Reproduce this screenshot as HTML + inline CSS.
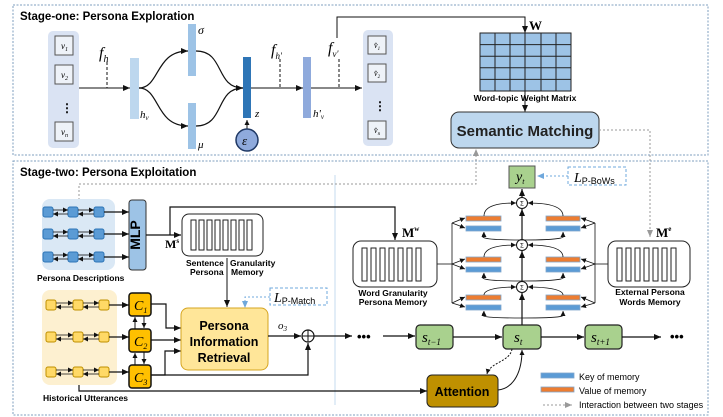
<!DOCTYPE html>
<html><head><meta charset="utf-8"><style>
html,body{margin:0;padding:0;background:#fff}
svg{display:block}
text{font-family:"Liberation Sans",sans-serif}
.s{font-family:"Liberation Serif",serif;font-style:italic}
.b{font-weight:bold}
</style></head><body>
<svg width="723" height="417" viewBox="0 0 723 417" xmlns="http://www.w3.org/2000/svg">
<defs>
<marker id="a" markerWidth="8" markerHeight="8" refX="7" refY="4" orient="auto" markerUnits="userSpaceOnUse"><path d="M0,1 L7,4 L0,7 z" fill="#111"/></marker>
<marker id="g" markerWidth="8" markerHeight="8" refX="7" refY="4" orient="auto" markerUnits="userSpaceOnUse"><path d="M0,1 L7,4 L0,7 z" fill="#999"/></marker>
<marker id="lb" markerWidth="8" markerHeight="8" refX="7" refY="4" orient="auto" markerUnits="userSpaceOnUse"><path d="M0,1 L7,4 L0,7 z" fill="#6fa8dc"/></marker>
<marker id="sm" markerWidth="6" markerHeight="6" refX="5" refY="3" orient="auto" markerUnits="userSpaceOnUse"><path d="M0,0.5 L5,3 L0,5.5 z" fill="#111"/></marker>
</defs>
<!-- stage boxes -->
<rect x="13" y="5" width="695" height="150" fill="none" stroke="#7f9fbf" stroke-dasharray="2,1.5" stroke-width="1"/>
<rect x="13" y="161" width="695" height="254" fill="none" stroke="#7f9fbf" stroke-dasharray="2,1.5" stroke-width="1"/>
<text x="20" y="20" font-size="11.5" class="b">Stage-one: Persona Exploration</text>
<text x="20" y="176" font-size="11.5" class="b">Stage-two: Persona Exploitation</text>
<line x1="335" y1="175" x2="335" y2="405" stroke="#c6dbef" stroke-width="1"/>

<!-- v panel -->
<rect x="48" y="31" width="31" height="117" rx="5" fill="#dae3f3"/>
<g fill="#eef2f8" stroke="#555" stroke-width="1">
<rect x="55" y="36" width="18" height="19"/><rect x="55" y="65" width="18" height="19"/><rect x="55" y="122" width="18" height="19"/>
</g>
<text x="61" y="49" font-size="9" class="s">v<tspan font-size="6" dy="2">1</tspan></text>
<text x="61" y="78" font-size="9" class="s">v<tspan font-size="6" dy="2">2</tspan></text>
<text x="61" y="135" font-size="9" class="s">v<tspan font-size="6" dy="2">n</tspan></text>
<text x="61" y="112" font-size="12" class="b">⋮</text>
<line x1="79" y1="88" x2="130" y2="88" stroke="#111" marker-end="url(#a)"/>
<text x="99" y="58" font-size="16" class="s">f<tspan font-size="10" dy="4">h</tspan></text>
<line x1="107" y1="62" x2="107" y2="88" stroke="#111" stroke-dasharray="3,2"/>
<rect x="130" y="58" width="9" height="61" fill="#bdd7ee"/>
<text x="140" y="118" font-size="11" class="s">h<tspan font-size="7" dy="2">v</tspan></text>
<rect x="188" y="24" width="8" height="52" fill="#9dc3e6"/>
<text x="198" y="34" font-size="12" class="s">σ</text>
<rect x="188" y="103" width="8" height="46" fill="#9dc3e6"/>
<text x="198" y="148" font-size="11" class="s">μ</text>
<g fill="none" stroke="#111" stroke-width="1.2">
<path d="M139,88 C160,88 155,51 188,51" marker-end="url(#a)"/>
<path d="M139,88 C160,88 155,126 188,126" marker-end="url(#a)"/>
<path d="M196,51 C225,51 215,88 243,88" marker-end="url(#a)"/>
<path d="M196,126 C225,126 215,88 243,88"/>
</g>
<rect x="243" y="57" width="8" height="61" fill="#2e75b6"/>
<text x="255" y="117" font-size="11" class="s">z</text>
<line x1="247" y1="129" x2="247" y2="120" stroke="#111" marker-end="url(#sm)"/>
<circle cx="247" cy="140" r="11" fill="#8faadc" stroke="#1f3864" stroke-width="1.5"/>
<text x="242" y="145" font-size="13" class="s">ε</text>
<line x1="251" y1="88" x2="303" y2="88" stroke="#111" marker-end="url(#a)"/>
<text x="271" y="55" font-size="16" class="s">f<tspan font-size="9" dy="4">h'</tspan></text>
<line x1="280" y1="59" x2="280" y2="88" stroke="#111" stroke-dasharray="3,2"/>
<rect x="303" y="57" width="8" height="61" fill="#8faadc"/>
<text x="313" y="117" font-size="11" class="s">h'<tspan font-size="7" dy="2">v</tspan></text>
<line x1="311" y1="88" x2="362" y2="88" stroke="#111" marker-end="url(#a)"/>
<text x="328" y="53" font-size="16" class="s">f<tspan font-size="9" dy="4">v'</tspan></text>
<line x1="339" y1="59" x2="339" y2="88" stroke="#111" stroke-dasharray="3,2"/>
<polyline points="337,38 337,17 525,17 525,33" fill="none" stroke="#111" marker-end="url(#a)"/>
<!-- vhat panel -->
<rect x="363" y="30" width="30" height="116" rx="5" fill="#dae3f3"/>
<g fill="#eef2f8" stroke="#555"><rect x="368" y="36" width="18" height="18"/><rect x="368" y="64" width="18" height="18"/><rect x="368" y="121" width="18" height="18"/></g>
<text x="374" y="48" font-size="8" class="s">v̂<tspan font-size="5" dy="2">1</tspan></text>
<text x="374" y="76" font-size="8" class="s">v̂<tspan font-size="5" dy="2">2</tspan></text>
<text x="374" y="133" font-size="8" class="s">v̂<tspan font-size="5" dy="2">n</tspan></text>
<text x="374" y="110" font-size="12" class="b">⋮</text>
<!-- matrix -->
<text x="529" y="30" font-size="13" font-family="Liberation Serif" class="b" style="font-family:'Liberation Serif',serif">W</text>
<rect x="480" y="33" width="91" height="58" fill="#9dc3e6" stroke="#222"/>
<g stroke="#222" stroke-width="1">
<line x1="495" y1="33" x2="495" y2="91"/><line x1="510" y1="33" x2="510" y2="91"/><line x1="525" y1="33" x2="525" y2="91"/><line x1="541" y1="33" x2="541" y2="91"/><line x1="556" y1="33" x2="556" y2="91"/>
<line x1="480" y1="44.6" x2="571" y2="44.6"/><line x1="480" y1="56.2" x2="571" y2="56.2"/><line x1="480" y1="67.8" x2="571" y2="67.8"/><line x1="480" y1="79.4" x2="571" y2="79.4"/>
</g>
<text x="525" y="101" font-size="8.5" class="b" text-anchor="middle">Word-topic  Weight  Matrix</text>
<line x1="525" y1="91" x2="525" y2="112" stroke="#111" marker-end="url(#a)"/>
<rect x="451" y="112" width="148" height="36" rx="8" fill="#bdd7ee" stroke="#333"/>
<text x="525" y="136" font-size="15" class="b" text-anchor="middle" fill="#222">Semantic Matching</text>
<polyline points="599,130 650,130 650,237" fill="none" stroke="#999" stroke-dasharray="2,2" marker-end="url(#g)"/>
<polyline points="79,200 79,184 476,184 476,149" fill="none" stroke="#999" stroke-dasharray="2,2" marker-end="url(#g)"/>

<!-- persona descriptions -->
<rect x="42" y="199" width="73" height="71" rx="8" fill="#dae8f5"/>
<g fill="#5b9bd5" stroke="#2e75b6">
<rect x="43" y="207" width="10" height="10" rx="2"/><rect x="68" y="207" width="10" height="10" rx="2"/><rect x="94" y="207" width="10" height="10" rx="2"/>
<rect x="43" y="229" width="10" height="10" rx="2"/><rect x="68" y="229" width="10" height="10" rx="2"/><rect x="94" y="229" width="10" height="10" rx="2"/>
<rect x="43" y="252" width="10" height="10" rx="2"/><rect x="68" y="252" width="10" height="10" rx="2"/><rect x="94" y="252" width="10" height="10" rx="2"/>
</g>
<g stroke="#111" fill="none" stroke-width="0.8">
<line x1="53" y1="210" x2="68" y2="210" marker-end="url(#sm)"/><line x1="68" y1="214" x2="53" y2="214" marker-end="url(#sm)"/>
<line x1="78" y1="210" x2="94" y2="210" marker-end="url(#sm)"/><line x1="94" y1="214" x2="78" y2="214" marker-end="url(#sm)"/>
<line x1="53" y1="232" x2="68" y2="232" marker-end="url(#sm)"/><line x1="68" y1="236" x2="53" y2="236" marker-end="url(#sm)"/>
<line x1="78" y1="232" x2="94" y2="232" marker-end="url(#sm)"/><line x1="94" y1="236" x2="78" y2="236" marker-end="url(#sm)"/>
<line x1="53" y1="255" x2="68" y2="255" marker-end="url(#sm)"/><line x1="68" y1="259" x2="53" y2="259" marker-end="url(#sm)"/>
<line x1="78" y1="255" x2="94" y2="255" marker-end="url(#sm)"/><line x1="94" y1="259" x2="78" y2="259" marker-end="url(#sm)"/>
</g>
<g stroke="#111" stroke-width="1.2">
<line x1="104" y1="212" x2="129" y2="212" marker-end="url(#a)"/><line x1="104" y1="234" x2="129" y2="234" marker-end="url(#a)"/><line x1="104" y1="257" x2="129" y2="257" marker-end="url(#a)"/>
</g>
<text x="37" y="281" font-size="8.5" class="b">Persona  Descriptions</text>
<rect x="129" y="200" width="17" height="70" rx="3" fill="#9dc3e6" stroke="#333"/>
<text x="143" y="235" font-size="14" class="b" text-anchor="middle" transform="rotate(-90 143 235)" dy="-3">MLP</text>
<line x1="146" y1="235" x2="181" y2="235" stroke="#111" stroke-width="1.2" marker-end="url(#a)"/>
<polyline points="170,235 170,207 395,207 395,240" fill="none" stroke="#111" stroke-width="1.2" marker-end="url(#a)"/>
<text x="165" y="248" font-size="12" class="b" style="font-family:'Liberation Serif',serif">M<tspan font-size="7" dy="-5">s</tspan></text>
<rect x="182" y="214" width="81" height="42" rx="7" fill="#fff" stroke="#222"/>
<g fill="#fff" stroke="#222"><rect x="191" y="220" width="5" height="30"/><rect x="199" y="220" width="5" height="30"/><rect x="207" y="220" width="5" height="30"/><rect x="215" y="220" width="5" height="30"/><rect x="223" y="220" width="5" height="30"/><rect x="231" y="220" width="5" height="30"/><rect x="239" y="220" width="5" height="30"/><rect x="247" y="220" width="5" height="30"/></g>
<text x="186" y="266" font-size="8.5" class="b">Sentence</text><text x="230" y="266" font-size="8.5" class="b">Granularity</text>
<text x="190" y="275" font-size="8.5" class="b">Persona</text><text x="231" y="275" font-size="8.5" class="b">Memory</text>
<line x1="227" y1="258" x2="227" y2="307" stroke="#111" marker-end="url(#a)"/>
<rect x="270" y="288" width="57" height="17" fill="none" stroke="#6fa8dc" stroke-dasharray="3,2"/>
<text x="274" y="302" font-size="14" class="s" style="font-style:italic">L<tspan font-size="9" font-style="normal" font-family="Liberation Sans" dy="2">P-Match</tspan></text>
<polyline points="270,297 245,297 245,308" fill="none" stroke="#6fa8dc" stroke-dasharray="2,2" marker-end="url(#lb)"/>

<!-- historical -->
<rect x="42" y="290" width="75" height="95" rx="8" fill="#fdf0d0"/>
<g fill="#ffd966" stroke="#bf9000">
<rect x="46" y="300" width="10" height="10" rx="2"/><rect x="73" y="300" width="10" height="10" rx="2"/><rect x="99" y="300" width="10" height="10" rx="2"/>
<rect x="46" y="332" width="10" height="10" rx="2"/><rect x="73" y="332" width="10" height="10" rx="2"/><rect x="99" y="332" width="10" height="10" rx="2"/>
<rect x="46" y="367" width="10" height="10" rx="2"/><rect x="73" y="367" width="10" height="10" rx="2"/><rect x="99" y="367" width="10" height="10" rx="2"/>
</g>
<g stroke="#111" fill="none" stroke-width="0.8">
<line x1="56" y1="303" x2="73" y2="303" marker-end="url(#sm)"/><line x1="73" y1="307" x2="56" y2="307" marker-end="url(#sm)"/>
<line x1="83" y1="303" x2="99" y2="303" marker-end="url(#sm)"/><line x1="99" y1="307" x2="83" y2="307" marker-end="url(#sm)"/>
<line x1="56" y1="335" x2="73" y2="335" marker-end="url(#sm)"/><line x1="73" y1="339" x2="56" y2="339" marker-end="url(#sm)"/>
<line x1="83" y1="335" x2="99" y2="335" marker-end="url(#sm)"/><line x1="99" y1="339" x2="83" y2="339" marker-end="url(#sm)"/>
<line x1="56" y1="370" x2="73" y2="370" marker-end="url(#sm)"/><line x1="73" y1="374" x2="56" y2="374" marker-end="url(#sm)"/>
<line x1="83" y1="370" x2="99" y2="370" marker-end="url(#sm)"/><line x1="99" y1="374" x2="83" y2="374" marker-end="url(#sm)"/>
</g>
<g stroke="#111" stroke-width="1.2">
<line x1="109" y1="305" x2="129" y2="305" marker-end="url(#a)"/><line x1="109" y1="337" x2="129" y2="337" marker-end="url(#a)"/><line x1="109" y1="372" x2="129" y2="372" marker-end="url(#a)"/>
</g>
<text x="43" y="401" font-size="8.5" class="b">Historical Utterances</text>
<g fill="#ffc000" stroke="#111" stroke-width="1.5">
<rect x="129" y="293" width="22" height="23" rx="3"/><rect x="129" y="329" width="22" height="23" rx="3"/><rect x="129" y="365" width="22" height="23" rx="3"/>
</g>
<text x="134" y="310" font-size="14" class="s">C<tspan font-size="8" dy="3">1</tspan></text>
<text x="134" y="346" font-size="14" class="s">C<tspan font-size="8" dy="3">2</tspan></text>
<text x="134" y="382" font-size="14" class="s">C<tspan font-size="8" dy="3">3</tspan></text>
<g stroke="#111" stroke-width="1">
<line x1="135" y1="329" x2="135" y2="317" marker-end="url(#sm)"/><line x1="144" y1="316" x2="144" y2="328" marker-end="url(#sm)"/>
<line x1="135" y1="365" x2="135" y2="353" marker-end="url(#sm)"/><line x1="144" y1="352" x2="144" y2="364" marker-end="url(#sm)"/>
</g>
<g fill="none" stroke="#111" stroke-width="1.2">
<polyline points="151,304 166,304 166,328 181,328" marker-end="url(#a)"/>
<line x1="151" y1="340" x2="181" y2="340" marker-end="url(#a)"/>
<polyline points="151,375 165,375 165,351 181,351" marker-end="url(#a)"/>
<polyline points="151,375 308,375 308,343" marker-end="url(#a)"/>
<polyline points="79,385 79,391 427,391" marker-end="url(#a)"/>
</g>
<rect x="181" y="308" width="87" height="62" rx="7" fill="#ffe699" stroke="#d6a520"/>
<text x="224" y="330" font-size="12.5" class="b" text-anchor="middle">Persona</text>
<text x="224" y="346" font-size="12.5" class="b" text-anchor="middle">Information</text>
<text x="224" y="362" font-size="12.5" class="b" text-anchor="middle">Retrieval</text>
<text x="278" y="329" font-size="11" class="s">o<tspan font-size="7" dy="2">3</tspan></text>
<line x1="268" y1="336" x2="301" y2="336" stroke="#111" stroke-width="1.2" marker-end="url(#a)"/>
<circle cx="308" cy="336" r="6" fill="#fff" stroke="#111" stroke-width="1.2"/>
<line x1="302" y1="336" x2="314" y2="336" stroke="#111"/><line x1="308" y1="330" x2="308" y2="342" stroke="#111"/>
<line x1="314" y1="336" x2="352" y2="336" stroke="#111" stroke-width="1.2" marker-end="url(#a)"/>
<text x="357" y="341" font-size="13" class="b">•••</text>
<line x1="383" y1="336" x2="415" y2="336" stroke="#111" stroke-width="1.2" marker-end="url(#a)"/>
<!-- s nodes -->
<g fill="#a9d18e" stroke="#222" stroke-width="1.2">
<rect x="416" y="325" width="37" height="24" rx="4"/><rect x="503" y="325" width="38" height="24" rx="4"/><rect x="585" y="325" width="37" height="24" rx="4"/>
</g>
<text x="422" y="342" font-size="15" class="s">s<tspan font-size="9" dy="3">t−1</tspan></text>
<text x="514" y="342" font-size="15" class="s">s<tspan font-size="9" dy="3">t</tspan></text>
<text x="591" y="342" font-size="15" class="s">s<tspan font-size="9" dy="3">t+1</tspan></text>
<g stroke="#111" stroke-width="1.2"><line x1="453" y1="337" x2="502" y2="337" marker-end="url(#a)"/><line x1="541" y1="337" x2="584" y2="337" marker-end="url(#a)"/><line x1="622" y1="337" x2="661" y2="337" marker-end="url(#a)"/></g>
<text x="670" y="341" font-size="13" class="b">•••</text>
<rect x="427" y="375" width="71" height="32" rx="5" fill="#bf9000" stroke="#222"/>
<text x="462" y="396" font-size="12.5" class="b" text-anchor="middle">Attention</text>
<path d="M512,349 C510,362 490,362 487,374" fill="none" stroke="#111" stroke-dasharray="2,1.5" marker-end="url(#sm)"/>
<path d="M498,390 C515,388 522,370 522,350" fill="none" stroke="#111" marker-end="url(#sm)"/>
<!-- y_t -->
<rect x="509" y="166" width="26" height="22" fill="#a9d18e" stroke="#555"/>
<text x="516" y="181" font-size="14" class="s">y<tspan font-size="8" dy="3">t</tspan></text>
<rect x="568" y="167" width="58" height="18" fill="none" stroke="#6fa8dc" stroke-dasharray="3,2"/>
<text x="574" y="182" font-size="14" class="s">L<tspan font-size="9" font-style="normal" font-family="Liberation Sans" dy="2">P-BoWs</tspan></text>
<line x1="568" y1="176" x2="537" y2="176" stroke="#6fa8dc" stroke-dasharray="2,2" marker-end="url(#lb)"/>
<!-- vertical chain -->
<g stroke="#111" stroke-width="1.2">
<line x1="522" y1="325" x2="522" y2="293" marker-end="url(#a)"/>
<line x1="522" y1="282" x2="522" y2="251" marker-end="url(#a)"/>
<line x1="522" y1="239" x2="522" y2="209" marker-end="url(#a)"/>
<line x1="522" y1="198" x2="522" y2="189" marker-end="url(#a)"/>
</g>
<g fill="#fff" stroke="#111"><circle cx="522" cy="203" r="5.5"/><circle cx="522" cy="245" r="5.5"/><circle cx="522" cy="287" r="5.5"/></g>
<g font-size="6" text-anchor="middle"><text x="522" y="205.5">Σ</text><text x="522" y="247.5">Σ</text><text x="522" y="289.5">Σ</text></g>
<!-- memory bars -->
<g stroke="#7fa6cc" stroke-width="0.8">
<rect x="466" y="216" width="35" height="5" fill="#ed7d31"/><rect x="466" y="226" width="35" height="5" fill="#5b9bd5"/>
<rect x="466" y="257" width="35" height="5" fill="#ed7d31"/><rect x="466" y="267" width="35" height="5" fill="#5b9bd5"/>
<rect x="466" y="295" width="35" height="5" fill="#ed7d31"/><rect x="466" y="305" width="35" height="5" fill="#5b9bd5"/>
<rect x="546" y="216" width="34" height="5" fill="#ed7d31"/><rect x="546" y="226" width="34" height="5" fill="#5b9bd5"/>
<rect x="546" y="257" width="34" height="5" fill="#ed7d31"/><rect x="546" y="267" width="34" height="5" fill="#5b9bd5"/>
<rect x="546" y="295" width="34" height="5" fill="#ed7d31"/><rect x="546" y="305" width="34" height="5" fill="#5b9bd5"/>
</g>
<g fill="none" stroke="#111" stroke-width="0.8">
<path d="M484,216 C484,205 500,203 516,203" marker-end="url(#sm)"/><path d="M563,216 C563,205 545,203 528,203" marker-end="url(#sm)"/>
<path d="M484,257 C484,247 500,245 516,245" marker-end="url(#sm)"/><path d="M563,257 C563,247 545,245 528,245" marker-end="url(#sm)"/>
<path d="M484,295 C484,289 500,287 516,287" marker-end="url(#sm)"/><path d="M563,295 C563,289 545,287 528,287" marker-end="url(#sm)"/>
<path d="M522,240 C470,240 484,236 484,232" marker-end="url(#sm)"/><path d="M522,240 C575,240 563,236 563,232" marker-end="url(#sm)"/>
<path d="M522,281 C470,281 484,277 484,273" marker-end="url(#sm)"/><path d="M522,281 C575,281 563,277 563,273" marker-end="url(#sm)"/>
<path d="M522,318 C470,318 484,315 484,311" marker-end="url(#sm)"/><path d="M522,318 C575,318 563,315 563,311" marker-end="url(#sm)"/>
<line x1="452" y1="223" x2="452" y2="303"/>
<line x1="452" y1="223" x2="465" y2="218" marker-end="url(#sm)"/><line x1="452" y1="223" x2="465" y2="228" marker-end="url(#sm)"/>
<line x1="452" y1="264" x2="465" y2="259" marker-end="url(#sm)"/><line x1="452" y1="264" x2="465" y2="269" marker-end="url(#sm)"/>
<line x1="452" y1="303" x2="465" y2="297" marker-end="url(#sm)"/><line x1="452" y1="303" x2="465" y2="307" marker-end="url(#sm)"/>
<line x1="437" y1="264" x2="452" y2="264"/>
<line x1="595" y1="223" x2="595" y2="303"/>
<line x1="595" y1="223" x2="581" y2="218" marker-end="url(#sm)"/><line x1="595" y1="223" x2="581" y2="228" marker-end="url(#sm)"/>
<line x1="595" y1="264" x2="581" y2="259" marker-end="url(#sm)"/><line x1="595" y1="264" x2="581" y2="269" marker-end="url(#sm)"/>
<line x1="595" y1="303" x2="581" y2="297" marker-end="url(#sm)"/><line x1="595" y1="303" x2="581" y2="307" marker-end="url(#sm)"/>
<line x1="595" y1="264" x2="608" y2="264"/>
</g>
<!-- Mw / Me -->
<text x="402" y="237" font-size="13" class="b" style="font-family:'Liberation Serif',serif">M<tspan font-size="7" dy="-6">w</tspan></text>
<rect x="353" y="241" width="84" height="46" rx="8" fill="#fff" stroke="#222"/>
<g fill="#fff" stroke="#222"><rect x="362" y="248" width="5" height="33"/><rect x="371" y="248" width="5" height="33"/><rect x="380" y="248" width="5" height="33"/><rect x="389" y="248" width="5" height="33"/><rect x="398" y="248" width="5" height="33"/><rect x="407" y="248" width="5" height="33"/><rect x="416" y="248" width="5" height="33"/></g>
<text x="393" y="296" font-size="8.5" class="b" text-anchor="middle">Word  Granularity</text>
<text x="393" y="305" font-size="8.5" class="b" text-anchor="middle">Persona Memory</text>
<text x="656" y="237" font-size="13" class="b" style="font-family:'Liberation Serif',serif">M<tspan font-size="7" dy="-6">e</tspan></text>
<rect x="608" y="241" width="82" height="46" rx="8" fill="#fff" stroke="#222"/>
<g fill="#fff" stroke="#222"><rect x="617" y="248" width="5" height="33"/><rect x="626" y="248" width="5" height="33"/><rect x="635" y="248" width="5" height="33"/><rect x="644" y="248" width="5" height="33"/><rect x="653" y="248" width="5" height="33"/><rect x="662" y="248" width="5" height="33"/><rect x="671" y="248" width="5" height="33"/></g>
<text x="650" y="295" font-size="8.5" class="b" text-anchor="middle">External Persona</text>
<text x="650" y="305" font-size="8.5" class="b" text-anchor="middle">Words Memory</text>
<!-- legend -->
<rect x="541" y="373" width="33" height="5" fill="#5b9bd5" stroke="#7fa6cc" stroke-width="0.8"/>
<text x="579" y="380" font-size="9">Key of memory</text>
<rect x="541" y="387" width="33" height="5" fill="#ed7d31" stroke="#7fa6cc" stroke-width="0.8"/>
<text x="579" y="394" font-size="9">Value of memory</text>
<line x1="543" y1="405" x2="572" y2="405" stroke="#999" stroke-dasharray="2,2" marker-end="url(#g)"/>
<text x="579" y="408" font-size="9">Interaction between two stages</text>
</svg>
</body></html>
